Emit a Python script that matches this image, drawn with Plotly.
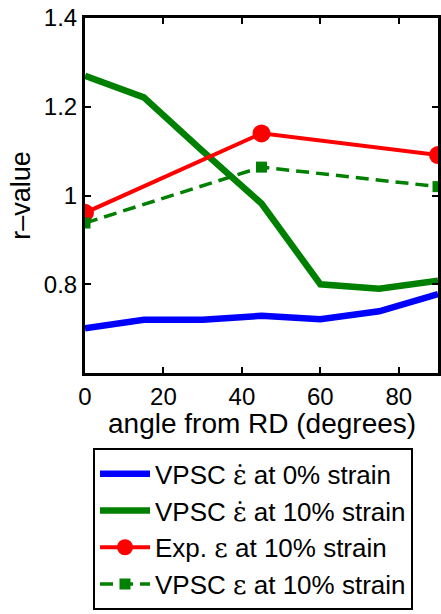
import plotly.graph_objects as go

# data
angles_full = [0, 15, 30, 45, 60, 75, 90]
vpsc_rate_0 = [0.701, 0.720, 0.720, 0.729, 0.721, 0.739, 0.778]
vpsc_rate_10 = [1.270, 1.221, 1.100, 0.982, 0.800, 0.790, 0.808]
angles_exp = [0, 45, 90]
exp_10 = [0.961, 1.140, 1.091]
vpsc_eps_10 = [0.938, 1.064, 1.020]

x_ticks = [0, 20, 40, 60, 80]
y_ticks = [0.8, 1.0, 1.2, 1.4]
y_tick_labels = ["0.8", "1", "1.2", "1.4"]
x_title = "angle from RD (degrees)"
y_title = "r–value"

eps = '<span style="font-family:DejaVu Serif">ε</span>'
epsdot = '<span style="font-family:DejaVu Serif">ε̇</span>'
names = [
    f"VPSC {epsdot} at 0% strain",
    f"VPSC {epsdot} at 10% strain",
    f"Exp. {eps} at 10% strain",
    f"VPSC {eps} at 10% strain",
]

FONT = "Liberation Sans, Arial, sans-serif"

fig = go.Figure()
fig.add_trace(go.Scatter(x=angles_full, y=vpsc_rate_0, mode="lines", name=names[0],
                         line=dict(color="#0000ff", width=6.5)))
fig.add_trace(go.Scatter(x=angles_full, y=vpsc_rate_10, mode="lines", name=names[1],
                         line=dict(color="#008000", width=6.5)))
fig.add_trace(go.Scatter(x=angles_exp, y=exp_10, mode="lines+markers", name=names[2],
                         line=dict(color="#ff0000", width=4),
                         marker=dict(symbol="circle", size=18, color="#ff0000")))
fig.add_trace(go.Scatter(x=angles_exp, y=vpsc_eps_10, mode="lines+markers", name=names[3],
                         line=dict(color="#008000", width=3.5, dash="13px,7px"),
                         marker=dict(symbol="square", size=11, color="#008000")))

fig.add_annotation(text=x_title, xref="paper", yref="paper", x=0.5, y=-0.142,
                   xanchor="center", yanchor="middle", showarrow=False,
                   font=dict(family=FONT, size=28, color="black"))

fig.update_layout(
    width=441, height=614,
    margin=dict(l=85, r=3, t=18, b=241, autoexpand=False),
    paper_bgcolor="white", plot_bgcolor="white",
    font=dict(family=FONT, size=24, color="black"),
    showlegend=True,
    legend=dict(
        x=0.0227, y=-0.212, xanchor="left", yanchor="top",
        bordercolor="black", borderwidth=2, bgcolor="white",
        font=dict(family=FONT, size=26, color="black"),
        tracegroupgap=0, itemwidth=50,
    ),
    xaxis=dict(
        range=[0, 90], tickvals=x_ticks, showgrid=False, zeroline=False,
        showline=True, linecolor="black", linewidth=3, mirror="ticks",
        ticks="inside", ticklen=6, tickwidth=2, tickcolor="black",
        tickfont=dict(size=24),
    ),
    yaxis=dict(
        range=[0.6, 1.4], tickvals=y_ticks, ticktext=y_tick_labels, showgrid=False, zeroline=False,
        showline=True, linecolor="black", linewidth=3, mirror="ticks",
        ticks="inside", ticklen=6, tickwidth=2, tickcolor="black",
        tickfont=dict(size=24),
        title=dict(text=y_title, font=dict(size=27), standoff=6),
    ),
)

fig.write_html("out.html")
